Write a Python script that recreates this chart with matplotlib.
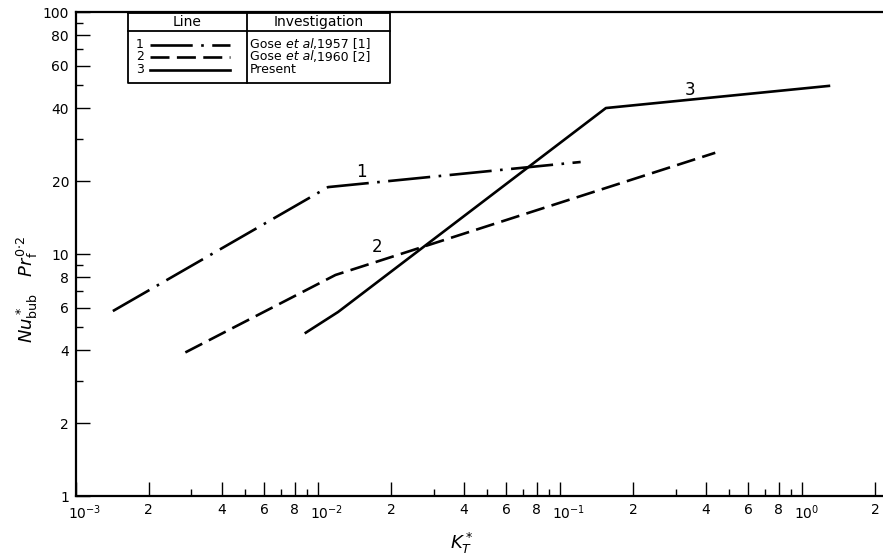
import numpy as np
import matplotlib
matplotlib.use("Agg")
import matplotlib.pyplot as plt
from matplotlib.transforms import ScaledTranslation

# line 1: Gose et al 1957, line 2: Gose et al 1960, line 3: present correlation
k1 = [1.42e-3, 1.10e-2, 0.1216]
nu1 = [5.81, 18.9, 24.0]
k2 = [2.83e-3, 1.18e-2, 0.4375]
nu2 = [3.92, 8.19, 26.2]
k3 = [8.9e-3, 1.21e-2, 0.1546, 1.29]
nu3 = [4.73, 5.76, 40.1, 49.5]

line_tags = ["1", "2", "3"]
tag_pos = [(0.0151, 21.8), (0.0176, 10.7), (0.344, 47.6)]
refs = ["Gose ", "Gose ", "Present"]
refs_it = ["et al", "et al", ""]
refs_end = [",1957 [1]", ",1960 [2]", ""]

x_major = [1e-3, 2e-3, 4e-3, 6e-3, 8e-3, 1e-2, 2e-2, 4e-2, 6e-2, 8e-2,
           1e-1, 2e-1, 4e-1, 6e-1, 8e-1, 1e0, 2e0]
x_major_lbl = [r"$10^{-3}$", "2", "4", "6", "8", r"$10^{-2}$", "2", "4", "6", "8",
               r"$10^{-1}$", "2", "4", "6", "8", r"$10^{0}$", "2"]
x_minor = [3e-3, 5e-3, 7e-3, 9e-3, 3e-2, 5e-2, 7e-2, 9e-2,
           3e-1, 5e-1, 7e-1, 9e-1]
y_major = [1, 2, 4, 6, 8, 10, 20, 40, 60, 80, 100]
y_minor = [3, 5, 7, 9, 30, 50, 70, 90]

plt.rcParams['font.family'] = 'DejaVu Sans'
plt.rcParams['mathtext.fontset'] = 'dejavusans'

fig = plt.figure(figsize=(8.83, 5.59), dpi=100)
ax = fig.add_axes([76/883, 63/559, 807/883, 484/559])
ax.set_xscale('log')
ax.set_yscale('log')
ax.set_xlim(1e-3, 10**0.334)
ax.set_ylim(1, 100)

lw = 1.9
styles = [(0, (16, 3.2, 1, 3.2)), (0, (7.2, 2.8)), '-']
ax.plot(k1, nu1, color='black', lw=lw, ls=styles[0])
ax.plot(k2, nu2, color='black', lw=lw, ls=styles[1])
ax.plot(k3, nu3, color='black', lw=lw, ls=styles[2])

for tag, (xp, yp) in zip(line_tags, tag_pos):
    ax.text(xp, yp, tag, fontsize=12, ha='center', va='center')

# axes frame: left, bottom and top only
ax.spines['right'].set_visible(False)
for s in ['left', 'bottom', 'top']:
    ax.spines[s].set_linewidth(1.6)

ax.set_xticks(x_major, x_major_lbl)
ax.set_xticks(x_minor, minor=True)
ax.set_yticks(y_major, [str(v) for v in y_major])
ax.set_yticks(y_minor, minor=True)
ax.xaxis.set_minor_formatter(matplotlib.ticker.NullFormatter())
ax.yaxis.set_minor_formatter(matplotlib.ticker.NullFormatter())
ax.tick_params(which='major', direction='in', length=10, width=1.0, labelsize=10,
               pad=5, top=False, right=False)
ax.tick_params(which='minor', direction='in', length=5, width=1.0,
               top=False, right=False)

# decade labels sit with the "10" over the tick
shift = ScaledTranslation(-6/72, 0, fig.dpi_scale_trans)
for lab in ax.get_xticklabels():
    if lab.get_text().startswith('$10'):
        lab.set_ha('left')
        lab.set_transform(lab.get_transform() + shift)

fig.text(462/883, 1 - 543/559, r"$K_T^*$", fontsize=13, ha='center', va='center')
fig.text(27/883, 1 - 290/559, r"$Nu^*_{\mathrm{bub}}\ \ \ Pr_{\mathrm{f}}^{0{\cdot}2}$",
         fontsize=13, ha='center', va='center', rotation=90)

# key table in the upper left corner
L, R, D = 128/883, 390/883, 247/883
T, H, B = 1 - 13/559, 1 - 31/559, 1 - 83/559
kw = dict(color='black', lw=1.3, transform=fig.transFigure)
fig.add_artist(plt.Line2D([L, R, R, L, L], [T, T, B, B, T], **kw))
fig.add_artist(plt.Line2D([L, R], [H, H], **kw))
fig.add_artist(plt.Line2D([D, D], [T, B], **kw))
fig.text((L + D) / 2, (T + H) / 2, "Line", fontsize=10, ha='center', va='center')
fig.text((D + R) / 2, (T + H) / 2, "Investigation", fontsize=10, ha='center', va='center')
row_y = [44.5, 57, 69.5]
for i, (tag, st, ry) in enumerate(zip(line_tags, styles, row_y)):
    yy = 1 - ry/559
    fig.text(140/883, yy, tag, fontsize=9, ha='center', va='center')
    fig.add_artist(plt.Line2D([150/883, 230/883], [yy, yy], color='black',
                              lw=lw, ls=st, transform=fig.transFigure))
    # plain, italic and plain pieces laid end to end
    t = fig.text(250/883, yy, refs[i], fontsize=9, ha='left', va='center')
    for piece, style in ((refs_it[i], 'italic'), (refs_end[i], 'normal')):
        if piece:
            t = fig.text(0, 0, piece, fontsize=9, ha='left', va='center',
                         style=style, transform=fig.transFigure)
            prev = fig.texts[-2]
            t.set_position((0, yy))
            fig.canvas.draw()
            bb = prev.get_window_extent()
            t.set_x(bb.x1 / fig.bbox.width)

fig.savefig('out.png', dpi=100)
